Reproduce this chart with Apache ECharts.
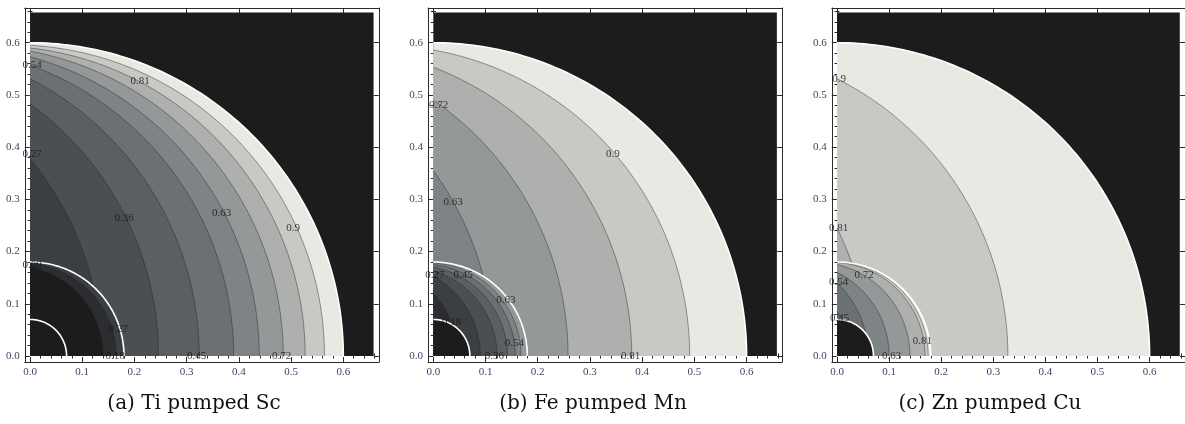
<!DOCTYPE html>
<html><head><meta charset="utf-8">
<script src="https://cdn.jsdelivr.net/npm/echarts@6/dist/echarts.min.js"></script>
<style>html,body{margin:0;padding:0;background:#fff}#c{width:1185px;height:424px}</style>
</head><body><div id="c"></div><script>
// ---------- data ----------
const bandColors = ['#1c1c1c','#2b2d30','#3b3f43','#4a4f54','#5a5f64','#6b7074','#7e8385','#959898','#aeb0ae','#c8c9c4','#e8e9e2'];
const levelStep = 0.09;
const majorTicks = [0, 0.1, 0.2, 0.3, 0.4, 0.5, 0.6];
const minorTicks = [0.02,0.04,0.06,0.08,0.12,0.14,0.16,0.18,0.22,0.24,0.26,0.28,0.32,0.34,0.36,0.38,0.42,0.44,0.46,0.48,0.52,0.54,0.56,0.58,0.62,0.64,0.66];
const captions = ['(a) Ti pumped Sc', '(b) Fe pumped Mn', '(c) Zn pumped Cu'];
const coreRadius = 0.07, interfaceRadius = 0.18, outerRadius = 0.6, windowMax = 0.658;

// panel (a) contour intercepts (x-axis, y-axis)
const aOuterLevel = [0.27, 0.36, 0.45, 0.54, 0.63, 0.72, 0.81, 0.9];
const aOuterX     = [0.136, 0.246, 0.324, 0.39, 0.439, 0.485, 0.527, 0.564];
const aOuterY     = [0.378, 0.483, 0.531, 0.557, 0.573, 0.584, 0.59, 0.595];
const aInnerLevel = [0.09, 0.18, 0.27];
const aInnerX     = [0.14, 0.165, 0.176];
const aInnerY     = [0.17, 0.177, 0.18];
const aLabelText  = ['0.54','0.81','0.27','0.36','0.63','0.9','0.09','0.27','0.18','0.45','0.72'];
const aLabelX     = [0.004, 0.211, 0.004, 0.18, 0.367, 0.504, 0.004, 0.169, 0.163, 0.319, 0.482];
const aLabelY     = [0.558, 0.526, 0.387, 0.265, 0.274, 0.244, 0.175, 0.051, 0.0, 0.0, 0.0];

// panel (b)
const bOuterLevel = [0.63, 0.72, 0.81, 0.9];
const bOuterX     = [0.115, 0.258, 0.38, 0.491];
const bOuterY     = [0.355, 0.49, 0.553, 0.586];
const bInnerLevel = [0.18, 0.27, 0.36, 0.45, 0.54, 0.63];
const bInnerX     = [0.047, 0.09, 0.122, 0.142, 0.157, 0.168];
const bInnerY     = [0.12, 0.153, 0.163, 0.17, 0.175, 0.178];
const bLabelText  = ['0.72','0.9','0.63','0.27','0.45','0.63','0.18','0.54','0.36','0.81'];
const bLabelX     = [0.01, 0.344, 0.038, 0.003, 0.057, 0.139, 0.035, 0.155, 0.117, 0.378];
const bLabelY     = [0.48, 0.386, 0.295, 0.154, 0.154, 0.107, 0.064, 0.025, 0.0, 0.0];

// panel (c)
const cOuterLevel = [0.81, 0.9];
const cOuterX     = [0.058, 0.328];
const cOuterY     = [0.245, 0.531];
const cInnerLevel = [0.45, 0.54, 0.63, 0.72, 0.81, 0.9];
const cInnerX     = [0.03, 0.06, 0.1, 0.14, 0.169, 0.175];
const cInnerY     = [0.085, 0.14, 0.16, 0.175, 0.179, 0.18];
const cLabelText  = ['0.9','0.81','0.72','0.54','0.45','0.81','0.63'];
const cLabelX     = [0.004, 0.003, 0.052, 0.003, 0.005, 0.164, 0.105];
const cLabelY     = [0.531, 0.245, 0.155, 0.141, 0.072, 0.029, 0.0];

// ---------- build ----------
const panels = [
  {oL:aOuterLevel,oX:aOuterX,oY:aOuterY,iL:aInnerLevel,iX:aInnerX,iY:aInnerY,lt:aLabelText,lx:aLabelX,ly:aLabelY},
  {oL:bOuterLevel,oX:bOuterX,oY:bOuterY,iL:bInnerLevel,iX:bInnerX,iY:bInnerY,lt:bLabelText,lx:bLabelX,ly:bLabelY},
  {oL:cOuterLevel,oX:cOuterX,oY:cOuterY,iL:cInnerLevel,iX:cInnerX,iY:cInnerY,lt:cLabelText,lx:cLabelX,ly:cLabelY}
];
const gridLefts = [24.8, 428.1, 831.8];
const captionX = [194, 593, 990];
const XMIN = -0.01, XMAX = 0.668, YMIN = -0.0115, YMAX = 0.6665;

// kind: 0 bg rect, 1 fill, 2 contour line, 3 white boundary
function buildItems(p) {
  const it = [];
  it.push([windowMax, windowMax, 0, 0]);
  const topOuter = Math.round(p.oL[p.oL.length - 1] / levelStep);
  it.push([outerRadius, outerRadius, topOuter, 1]);
  for (let j = p.oL.length - 1; j >= 0; j--) it.push([p.oX[j], p.oY[j], Math.round(p.oL[j] / levelStep) - 1, 1]);
  for (let j = p.oL.length - 1; j >= 0; j--) it.push([p.oX[j], p.oY[j], 0, 2]);
  const topInner = Math.round(p.iL[p.iL.length - 1] / levelStep);
  it.push([interfaceRadius, interfaceRadius, topInner, 1]);
  for (let j = p.iL.length - 1; j >= 0; j--) it.push([p.iX[j], p.iY[j], Math.round(p.iL[j] / levelStep) - 1, 1]);
  for (let j = p.iL.length - 1; j >= 0; j--) it.push([p.iX[j], p.iY[j], 0, 2]);
  it.push([coreRadius, coreRadius, 0, 1]);
  it.push([outerRadius, outerRadius, 0, 3]);
  it.push([interfaceRadius, interfaceRadius, 0, 3]);
  it.push([coreRadius, coreRadius, 0, 3]);
  return it;
}

function arcPoints(api, a, b) {
  // circle centred on the x axis through (a,0) and (0,b)
  const c = (b * b - a * a) / (2 * a);
  const R = a + c;
  const end = Math.atan2(b, c);
  const pts = [];
  const n = 90;
  for (let i = 0; i <= n; i++) {
    const t = end * i / n;
    pts.push(api.coord([-c + R * Math.cos(t), R * Math.sin(t)]));
  }
  return pts;
}

function renderItem(params, api) {
  const a = api.value(0), b = api.value(1), k = api.value(2), kind = api.value(3);
  if (kind === 0) {
    const pts = [[0,0],[a,0],[a,b],[0,b]].map(q => api.coord(q));
    return {type:'polygon', shape:{points:pts}, style:{fill:bandColors[0]}};
  }
  const arc = arcPoints(api, a, b);
  if (kind === 1) {
    return {type:'polygon', shape:{points:[api.coord([0,0])].concat(arc)}, style:{fill:bandColors[k], stroke:null}};
  }
  if (kind === 2) {
    return {type:'polyline', shape:{points:arc}, style:{fill:null, stroke:'rgba(35,35,35,0.55)', lineWidth:0.8}};
  }
  return {type:'polyline', shape:{points:arc}, style:{fill:null, stroke:'#ffffff', lineWidth:1.6}};
}

const grids = [], xAxes = [], yAxes = [], series = [], graphics = [];
const fmt = v => v.toFixed(1);
const labelStyle = {fontFamily:'Liberation Serif', fontSize:11, color:'#3d4566'};
const lineCol = '#2a2a2a';
panels.forEach((p, i) => {
  grids.push({left: gridLefts[i], top: 8, width: 354, height: 354});
  const base = {gridIndex:i, type:'value', splitLine:{show:false}};
  // x axes
  xAxes.push(Object.assign({}, base, {min:XMIN, max:XMAX, position:'bottom',
    axisLine:{show:true, onZero:false, lineStyle:{color:lineCol, width:1}},
    axisTick:{show:true, inside:true, length:5, customValues:majorTicks, lineStyle:{color:lineCol}},
    axisLabel:Object.assign({show:true, customValues:majorTicks, formatter:fmt, margin:5}, labelStyle)}));
  xAxes.push(Object.assign({}, base, {min:XMIN, max:XMAX, position:'bottom',
    axisLine:{show:false}, axisTick:{show:true, inside:true, length:2.5, customValues:minorTicks, lineStyle:{color:lineCol}},
    axisLabel:{show:false}}));
  xAxes.push(Object.assign({}, base, {min:XMIN, max:XMAX, position:'top',
    axisLine:{show:true, onZero:false, lineStyle:{color:lineCol, width:1}},
    axisTick:{show:true, inside:true, length:5, customValues:majorTicks, lineStyle:{color:lineCol}},
    axisLabel:{show:false}}));
  xAxes.push(Object.assign({}, base, {min:XMIN, max:XMAX, position:'top',
    axisLine:{show:false}, axisTick:{show:true, inside:true, length:2.5, customValues:minorTicks, lineStyle:{color:lineCol}},
    axisLabel:{show:false}}));
  // y axes
  yAxes.push(Object.assign({}, base, {min:YMIN, max:YMAX, position:'left',
    axisLine:{show:true, onZero:false, lineStyle:{color:lineCol, width:1}},
    axisTick:{show:true, inside:true, length:5, customValues:majorTicks, lineStyle:{color:lineCol}},
    axisLabel:Object.assign({show:true, customValues:majorTicks, formatter:fmt, margin:5}, labelStyle)}));
  yAxes.push(Object.assign({}, base, {min:YMIN, max:YMAX, position:'left',
    axisLine:{show:false}, axisTick:{show:true, inside:true, length:2.5, customValues:minorTicks, lineStyle:{color:lineCol}},
    axisLabel:{show:false}}));
  yAxes.push(Object.assign({}, base, {min:YMIN, max:YMAX, position:'right',
    axisLine:{show:true, onZero:false, lineStyle:{color:lineCol, width:1}},
    axisTick:{show:true, inside:true, length:5, customValues:majorTicks, lineStyle:{color:lineCol}},
    axisLabel:{show:false}}));
  yAxes.push(Object.assign({}, base, {min:YMIN, max:YMAX, position:'right',
    axisLine:{show:false}, axisTick:{show:true, inside:true, length:2.5, customValues:minorTicks, lineStyle:{color:lineCol}},
    axisLabel:{show:false}}));

  series.push({type:'custom', xAxisIndex:4*i, yAxisIndex:4*i, renderItem:renderItem, clip:false, silent:true,
    data: buildItems(p), animation:false});
  series.push({type:'scatter', xAxisIndex:4*i, yAxisIndex:4*i, symbolSize:0, silent:true, animation:false,
    data: p.lt.map((t, j) => ({name:t, value:[p.lx[j], p.ly[j]]})),
    label:{show:true, position:'inside', formatter:'{b}', fontFamily:'Liberation Serif', fontSize:11, color:'#111'}});
  graphics.push({type:'text', x:captionX[i], y:404, style:{text:captions[i], fontFamily:'DejaVu Serif', fontSize:20, fill:'#111', align:'center', verticalAlign:'middle'}});
});

const chart = echarts.init(document.getElementById('c'), null, {renderer:'canvas'});
chart.setOption({animation:false, grid:grids, xAxis:xAxes, yAxis:yAxes, series:series, graphic:graphics});
</script></body></html>
